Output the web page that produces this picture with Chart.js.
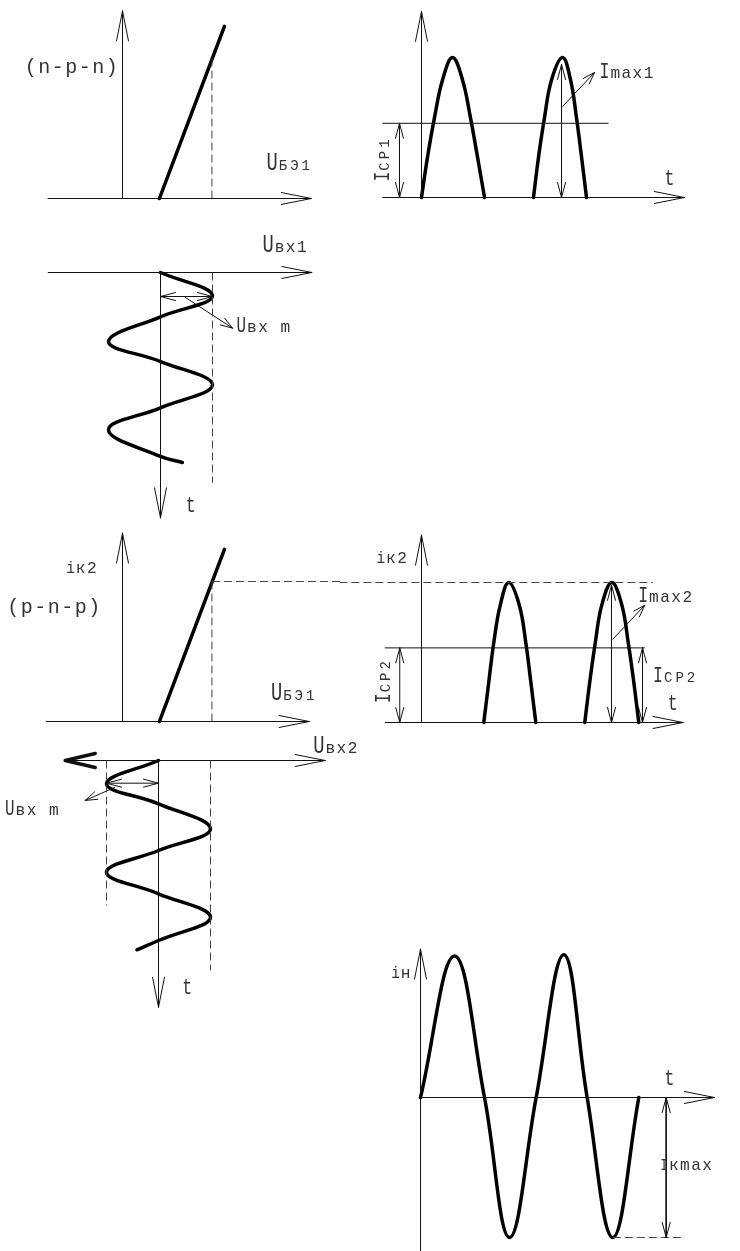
<!DOCTYPE html>
<html>
<head>
<meta charset="utf-8">
<script src="https://cdn.jsdelivr.net/npm/chart.js@4.4.1/dist/chart.umd.min.js"></script>
<style>
  body { margin: 0; background: #fff; }
  #sheet { position: relative; width: 740px; height: 1251px; overflow: hidden; }
  #sheet canvas { position: absolute; }
</style>
</head>
<body>
<div id="sheet"></div>
<script>
// Units: U in Uвх m, i in Imax, t in periods of the input signal.

// transfer characteristic i_к = f(U_БЭ), drawn alike for both transistors
const charU = [0.71, 1.96];
const charI = [0, 1.23];
// point reached at the input peak
const peakU = 1.72;
const peakI = 1.0;

// collector current pulses (same shape for every pulse)
const pulseI = [0, 0.29, 0.57, 0.84, 1, 0.84, 0.57, 0.29, 0];
const npnPulseT1 = [0, 0.055, 0.118, 0.191, 0.282, 0.373, 0.445, 0.509, 0.573];
const npnPulseT2 = [1.018, 1.064, 1.118, 1.182, 1.282, 1.355, 1.409, 1.455, 1.5];
const pnpPulseT1 = [0.599, 0.647, 0.695, 0.758, 0.839, 0.94, 1.003, 1.051, 1.099];
const pnpPulseT2 = [1.57, 1.618, 1.671, 1.734, 1.83, 1.926, 1.988, 2.041, 2.089];
const npnMeanI = 0.53;
const pnpMeanI = 0.533;

// input voltages, time running downwards
const in1T = [0, 0.259, 0.492, 0.767, 0.989, 1.248, 1.503, 1.748, 2.044, 2.111];
const in1U = [0, 1, 0, -1, 0, 1, 0, -1, 0, 0.42];
const in2T = [0, 0.259, 0.481, 0.759, 1.0, 1.241, 1.481, 1.741, 2.0, 2.103];
const in2U = [0, -1, 0, 1, 0, -1, 0, 1, 0, -0.415];

// load current
const loadT = [0, 0.312, 0.587, 0.817, 1.061, 1.315, 1.529, 1.764, 2.003];
const loadI = [0, 1.01, 0, -1, 0, 1.02, 0, -1, 0];

const sheet = document.getElementById('sheet');

const xy = (xs, ys) => xs.map((x, i) => ({ x, y: ys[i] }));
const seg = (x0, y0, x1, y1) => [{ x: x0, y: y0 }, { x: x1, y: y1 }];

function line(data, extra) {
  return Object.assign({
    data, showLine: true, pointRadius: 0, fill: false, clip: false,
    borderColor: '#111', borderWidth: 1, tension: 0
  }, extra);
}
const bold = { borderColor: '#000', borderWidth: 3.5, borderCapStyle: 'round', borderJoinStyle: 'round', tension: 0.4 };
const dashed = { borderColor: '#444', borderDash: [8, 4] };
const both = { headStart: 'dim', headEnd: 'dim' };

// open arrow heads
const HEADS = {
  axis:  { len: 30, half: 6, width: 1 },
  dim:   { len: 15, half: 4, width: 1 },
  lead:  { len: 12, half: 4, width: 1 },
  heavy: { len: 30, half: 7, width: 3.5 }
};

function head(ctx, from, tip, st, color) {
  const a = Math.atan2(tip.y - from.y, tip.x - from.x);
  ctx.save();
  ctx.strokeStyle = color;
  ctx.lineWidth = st.width;
  ctx.lineCap = 'round';
  ctx.beginPath();
  [-1, 1].forEach(s => {
    ctx.moveTo(tip.x, tip.y);
    ctx.lineTo(tip.x - st.len * Math.cos(a) - s * st.half * Math.sin(a),
               tip.y - st.len * Math.sin(a) + s * st.half * Math.cos(a));
  });
  ctx.stroke();
  ctx.restore();
}

const arrowHeads = {
  id: 'arrowHeads',
  afterDatasetsDraw(chart) {
    chart.data.datasets.forEach((ds, i) => {
      const p = chart.getDatasetMeta(i).data;
      if (ds.headEnd) head(chart.ctx, p[p.length - 2], p[p.length - 1], HEADS[ds.headEnd], ds.borderColor);
      if (ds.headStart) head(chart.ctx, p[1], p[0], HEADS[ds.headStart], ds.borderColor);
    });
  }
};

// lettering: size in px, horizontal squeeze, letter spacing
const TEXT = {
  big:  { size: 26, sx: 0.72 },
  bigs: { size: 22, sx: 0.72 },
  cap:  { size: 22, sx: 0.75 },
  capS: { size: 16, sx: 0.8 },
  sub:  { size: 14, sx: 1, ls: 3 },
  subl: { size: 17, sx: 0.95, ls: 1.5 },
  var:  { size: 22, sx: 0.75 },
  ivar: { size: 16, sx: 0.9 },
  note: { size: 20, sx: 1, ls: 1.5 }
};

function captions(list) {
  return {
    id: 'captions',
    afterDatasetsDraw(chart) {
      const { ctx, scales: { x, y } } = chart;
      list.forEach(c => {
        ctx.save();
        ctx.fillStyle = '#333';
        ctx.translate(x.getPixelForValue(c.x), y.getPixelForValue(c.y));
        if (c.rot) ctx.rotate(c.rot * Math.PI / 180);
        ctx.textBaseline = c.base || 'alphabetic';
        let pen = 0;
        c.parts.forEach(([str, kind]) => {
          const st = TEXT[kind];
          ctx.font = st.size + "px 'Liberation Mono'";
          ctx.letterSpacing = (st.ls || 0) + 'px';
          ctx.save();
          ctx.scale(st.sx, 1);
          ctx.fillText(str, pen / st.sx, 0);
          ctx.restore();
          pen += ctx.measureText(str).width * st.sx + 1;
        });
        ctx.restore();
      });
    }
  };
}

// box: canvas place on the sheet, origin inside it, px per unit
function makePanel(box, datasets, notes) {
  const cv = document.createElement('canvas');
  cv.width = box.w;
  cv.height = box.h;
  cv.style.left = box.left + 'px';
  cv.style.top = box.top + 'px';
  sheet.appendChild(cv);
  const yScale = box.down
    ? { type: 'linear', display: false, reverse: true, min: -box.oy / box.ky, max: (box.h - box.oy) / box.ky }
    : { type: 'linear', display: false, min: -(box.h - box.oy) / box.ky, max: box.oy / box.ky };
  return new Chart(cv, {
    type: 'scatter',
    data: { datasets },
    options: {
      responsive: false,
      animation: false,
      events: [],
      layout: { padding: 0 },
      plugins: { legend: { display: false }, tooltip: { enabled: false } },
      scales: {
        x: { type: 'linear', display: false, min: -box.ox / box.kx, max: (box.w - box.ox) / box.kx },
        y: yScale
      }
    },
    plugins: [arrowHeads, captions(notes)]
  });
}

// n-p-n transfer characteristic
makePanel({ left: 0, top: 0, w: 335, h: 215, ox: 122.5, oy: 198.5, kx: 52, ky: 140 }, [
  line(seg(-1.44, 0, 3.63, 0), { headEnd: 'axis' }),
  line(seg(0, 0, 0, 1.34), { headEnd: 'axis' }),
  line(seg(peakU, 0, peakU, peakI), dashed),
  line(xy(charU, charI), bold)
], [
  { x: -1.88, y: 0.936, base: 'middle', parts: [['(n-p-n)', 'note']] },
  { x: 2.77, y: 0.207, parts: [['U', 'big'], ['БЭ1', 'sub']] }
]);

// n-p-n collector current
makePanel({ left: 340, top: 0, w: 400, h: 215, ox: 81.5, oy: 197.5, kx: 110, ky: 140 }, [
  line(seg(-0.355, 0, 2.39, 0), { headEnd: 'axis' }),
  line(seg(0, 0, 0, 1.33), { headEnd: 'axis' }),
  line(seg(-0.355, npnMeanI, 1.7, npnMeanI)),
  line(seg(-0.2, 0, -0.2, npnMeanI), both),
  line(seg(1.273, 0, 1.273, 0.95), both),
  line(seg(1.282, 0.65, 1.573, 0.893), { headEnd: 'lead' }),
  line(xy(npnPulseT1, pulseI), bold),
  line(xy(npnPulseT2, pulseI), bold)
], [
  { x: -0.291, y: 0.114, rot: -90, parts: [['I', 'cap'], ['СР1', 'sub']] },
  { x: 1.618, y: 0.857, parts: [['I', 'cap'], ['max1', 'subl']] },
  { x: 2.21, y: 0.086, parts: [['t', 'var']] }
]);

// input voltage of the first stage
makePanel({ left: 0, top: 215, w: 340, h: 310, ox: 160.5, oy: 57.5, kx: 52, ky: 90, down: true }, [
  line(seg(-2.167, 0, 2.91, 0), { headEnd: 'axis' }),
  line(seg(0, 0, 0, 2.726), { headEnd: 'axis' }),
  line(seg(1, 0, 1, 2.337), dashed),
  line(seg(0, 0.267, 1, 0.267), both),
  line(seg(0.467, 0.273, 1.385, 0.618), { headEnd: 'lead' }),
  line(xy(in1U, in1T), bold)
], [
  { x: 1.96, y: -0.23, parts: [['U', 'big'], ['вх1', 'subl']] },
  { x: 1.462, y: 0.656, parts: [['U', 'bigs'], ['вх m', 'subl']] },
  { x: 0.487, y: 2.66, parts: [['t', 'var']] }
]);

// p-n-p transfer characteristic
makePanel({ left: 0, top: 525, w: 340, h: 215, ox: 122.5, oy: 196.5, kx: 52, ky: 140 }, [
  line(seg(-1.473, 0, 3.59, 0), { headEnd: 'axis' }),
  line(seg(0, 0, 0, 1.346), { headEnd: 'axis' }),
  line(seg(peakU, 0, peakU, peakI), dashed),
  line(seg(peakU, peakI, 4.3, peakI), dashed),
  line(xy(charU, charI), bold)
], [
  { x: -1.083, y: 1.062, parts: [['i', 'ivar'], ['к2', 'subl']] },
  { x: -2.217, y: 0.812, base: 'middle', parts: [['(p-n-p)', 'note']] },
  { x: 2.854, y: 0.155, parts: [['U', 'big'], ['БЭ1', 'sub']] }
]);

// p-n-p collector current
makePanel({ left: 340, top: 525, w: 400, h: 215, ox: 81.5, oy: 197.5, kx: 104, ky: 140 }, [
  line(seg(-0.353, 0, 2.515, 0), { headEnd: 'axis' }),
  line(seg(0, 0, 0, 1.338), { headEnd: 'axis' }),
  line(seg(-0.79, peakI, 2.227, peakI), dashed),
  line(seg(-0.353, pnpMeanI, 2.147, pnpMeanI)),
  line(seg(-0.209, 0, -0.209, pnpMeanI), both),
  line(seg(2.125, 0, 2.125, pnpMeanI), both),
  line(seg(1.827, 0, 1.827, 0.98), both),
  line(seg(1.837, 0.593, 2.147, 0.838), { headEnd: 'lead' }),
  line(xy(pnpPulseT1, pulseI), bold),
  line(xy(pnpPulseT2, pulseI), bold)
], [
  { x: -0.433, y: 1.136, parts: [['i', 'ivar'], ['к2', 'subl']] },
  { x: 2.083, y: 0.859, parts: [['I', 'cap'], ['max2', 'subl']] },
  { x: -0.305, y: 0.138, rot: -90, parts: [['I', 'cap'], ['СР2', 'sub']] },
  { x: 2.227, y: 0.29, parts: [['I', 'cap'], ['СР2', 'sub']] },
  { x: 2.368, y: 0.088, parts: [['t', 'var']] }
]);

// input voltage of the second stage
makePanel({ left: 0, top: 725, w: 370, h: 290, ox: 158.5, oy: 35.5, kx: 52, ky: 90, down: true }, [
  line(seg(-1.794, 0, 3.206, 0), { headEnd: 'axis', headStart: 'heavy' }),
  line(seg(0, 0, 0, 2.741), { headEnd: 'axis' }),
  line(seg(-1, 0, -1, 1.611), dashed),
  line(seg(1, 0, 1, 2.333), dashed),
  line(seg(-1, 0.252, 0, 0.252), both),
  line(seg(-0.833, 0.297, -1.41, 0.444), { headEnd: 'lead' }),
  line(xy(in2U, in2T), bold)
], [
  { x: -2.95, y: 0.611, parts: [['U', 'bigs'], ['вх m', 'subl']] },
  { x: 0.456, y: 2.589, parts: [['t', 'var']] },
  { x: 2.975, y: -0.078, parts: [['U', 'big'], ['вх2', 'subl']] }
]);

// load current
makePanel({ left: 360, top: 940, w: 380, h: 311, ox: 60.5, oy: 157.5, kx: 109, ky: 140 }, [
  line(seg(0, 0, 2.697, 0), { headEnd: 'axis' }),
  line(seg(0, -1.11, 0, 1.06), { headEnd: 'axis' }),
  line(seg(2.254, 0, 2.254, -1), both),
  line(seg(1.764, -1, 2.422, -1), dashed),
  line(xy(loadT, loadI), bold)
], [
  { x: 2.2, y: -0.516, parts: [['I', 'capS'], ['кmax', 'subl']] },
  { x: 2.239, y: 0.09, parts: [['t', 'var']] },
  { x: -0.269, y: 0.853, parts: [['i', 'ivar'], ['н', 'subl']] }
]);
</script>
</body>
</html>
